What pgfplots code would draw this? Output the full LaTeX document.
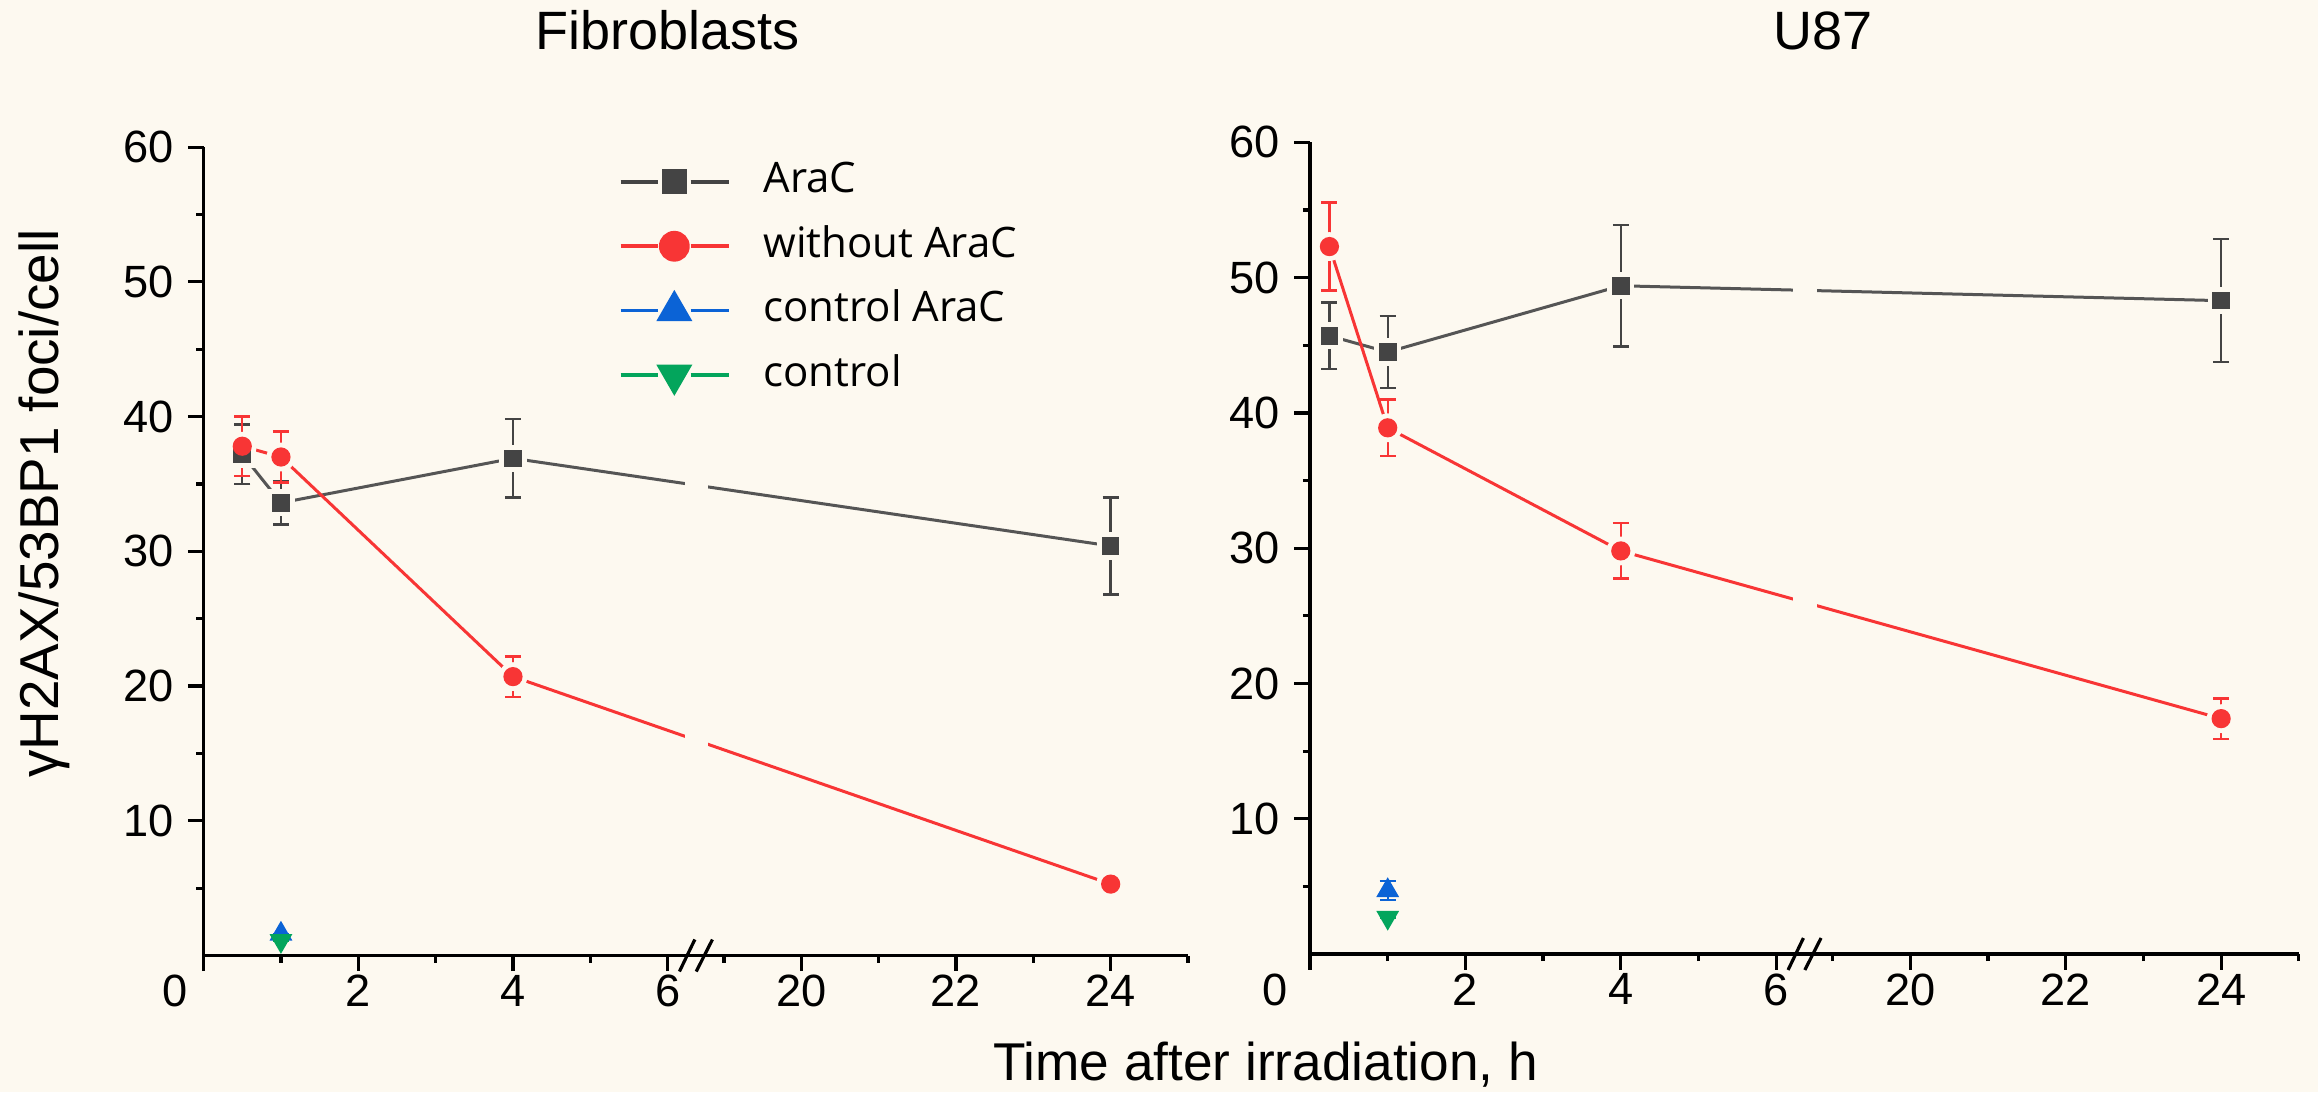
\documentclass[border=0pt]{standalone}
\usepackage{fontspec}
\setmainfont{Liberation Sans}
\newfontfamily\legfont{Open Sans}
\usepackage{pgfplots}
\pgfplotsset{compat=1.18}
\usepackage{pgfplotstable}
\definecolor{bg}{HTML}{FDF9F0}
\definecolor{cgray}{HTML}{444444}
\definecolor{lgray}{HTML}{555555}
\definecolor{cred}{HTML}{F83535}
\definecolor{cblue}{HTML}{0B63D6}
\definecolor{cgreen}{HTML}{03A55C}

% Fibroblasts
\pgfplotstableread{
t v e
0.5 37.2 2.2
1 33.6 1.6
4 36.9 2.9
24 30.4 3.6
}\FibAraC
\pgfplotstableread{
t v e
0.5 37.8 2.2
1 37.0 1.9
4 20.7 1.5
24 5.3 0
}\FibNo
\pgfplotstableread{
t v e
1 1.6 0
}\FibCtrlAraC
\pgfplotstableread{
t v e
1 1.1 0
}\FibCtrl
% U87
\pgfplotstableread{
t v e
0.25 45.7 2.45
1 44.5 2.65
4 49.4 4.5
24 48.3 4.55
}\UAraC
\pgfplotstableread{
t v e
0.25 52.3 3.25
1 38.9 2.1
4 29.8 2.05
24 17.4 1.5
}\UNo
\pgfplotstableread{
t v e
1 4.7 0.7
}\UCtrlAraC
\pgfplotstableread{
t v e
1 2.7 0
}\UCtrl

\pgfplotsset{
  x coord trafo/.code={\pgfmathparse{#1>12 ? #1-12.2727 : #1}},
  x coord inv trafo/.code={\pgfmathparse{#1>6.5 ? #1+12.2727 : #1}},
  legend image code/.code={
    \draw[#1, mark=none] (0pt,0pt) -- (9.25pt,0pt);
    \draw[#1, mark=none] (17.5pt,0pt) -- (27pt,0pt);
    \draw[#1] plot coordinates {(13.4pt,0pt)};
  },
  brk/.style={
    scale only axis, xmin=0, xmax=25, ymin=0, ymax=60,
    axis x line=bottom, axis y line=left,
    x axis line style={-}, y axis line style={-},
    axis line style={line width=0.9pt, black},
    xtick={0,2,4,6,20,22,24}, minor xtick={1,3,5,19,21,23,25},
    ytick={10,20,...,60}, minor ytick={5,15,...,55},
    tick align=outside, major tick length=3.9pt, minor tick length=1.8pt,
    every tick/.style={line width=0.8pt, black},
    ticklabel style={font=\fontsize{11.3}{13}\selectfont, inner sep=0pt},
    xticklabel style={yshift=-0.8pt},
    yticklabel style={xshift=-3.4pt},
    /pgf/number format/assume math mode=true,
    clip=false,
  },
  lineplot/.style={line width=0.75pt, no marks, forget plot},
  halo/.style={only marks, color=bg, forget plot},
  ebars/.style={only marks, forget plot,
    error bars/y dir=both, error bars/y explicit,
    error bars/error bar style={line width=0.6pt},
    error bars/error mark options={rotate=90, mark size=2pt, line width=0.6pt}},
}

\begin{document}
\begin{tikzpicture}
\fill[bg] (-50.9pt,-34.125pt) rectangle (528.6pt,238.875pt);
\path[use as bounding box] (-50.9pt,-34.125pt) rectangle (528.6pt,238.875pt);

% ---------------- Fibroblasts ----------------
\begin{axis}[brk, at={(0pt,0pt)}, anchor=south west,
  width=246.1pt, height=202.1pt,
  xticklabels={\makebox[0pt][r]{0\hspace{4.1pt}},2,4,6,20,22,24},
  legend style={at={(0.4219,0.983)}, anchor=north west, draw=none, fill=none,
    inner sep=0pt, outer sep=0pt, font=\legfont\fontsize{10.5}{12}\selectfont,
    row sep=5.6pt,
    nodes={inner sep=0pt, text height=8pt, text depth=2.5pt},
    /tikz/every odd column/.append style={column sep=8.25pt}},
  legend cell align=left]
\addlegendimage{color=cgray, line width=0.9pt, mark=square*, mark size=2.65pt}
\addlegendentry{AraC}
\addlegendimage{color=cred, line width=0.9pt, mark=*, mark size=3.4pt}
\addlegendentry{without AraC}
\addlegendimage{color=cblue, line width=0.9pt, mark=triangle*, mark size=4.3pt}
\addlegendentry{control AraC}
\addlegendimage{color=cgreen, line width=0.9pt, mark=triangle*, mark size=4.3pt, mark options={rotate=180}}
\addlegendentry{control}

\addplot[lineplot, lgray] table[x=t, y=v] {\FibAraC};
\addplot[lineplot, cred] table[x=t, y=v] {\FibNo};
\fill[bg] (axis cs:6.22,0.6) rectangle (axis cs:6.52,59.6);
\addplot[halo, mark=square*, mark size=3.2pt] table[x=t, y=v] {\FibAraC};
\addplot[halo, mark=*, mark size=3.4pt] table[x=t, y=v] {\FibNo};
\addplot[ebars, color=cgray, mark=square*, mark size=2pt] table[x=t, y=v, y error=e] {\FibAraC};
\addplot[ebars, color=cred, mark=*, mark size=2.2pt] table[x=t, y=v, y error=e] {\FibNo};
\addplot[ebars, color=cblue, mark=triangle*, mark size=2.9pt] table[x=t, y=v, y error=e] {\FibCtrlAraC};
\addplot[ebars, color=cgreen, mark=triangle*, mark size=2.9pt, mark options={rotate=180}] table[x=t, y=v, y error=e] {\FibCtrl};

\draw[black, line width=0.8pt] ([shift={(-4.1pt,-4pt)}]axis cs:6.364,0) -- ++(3.85pt,8pt);
\draw[black, line width=0.8pt] ([shift={(0.1pt,-4pt)}]axis cs:6.364,0) -- ++(4.05pt,8pt);
\end{axis}

% ---------------- U87 ----------------
\begin{axis}[brk, at={(276.6pt,0.375pt)}, anchor=south west,
  width=247.2pt, height=202.9pt,
  xticklabels={\makebox[0pt][r]{0\hspace{5.7pt}},2,4,6,20,22,24}]
\addplot[lineplot, lgray] table[x=t, y=v] {\UAraC};
\addplot[lineplot, cred] table[x=t, y=v] {\UNo};
\fill[bg] (axis cs:6.22,0.6) rectangle (axis cs:6.52,59.6);
\addplot[halo, mark=square*, mark size=3.2pt] table[x=t, y=v] {\UAraC};
\addplot[halo, mark=*, mark size=3.4pt] table[x=t, y=v] {\UNo};
\addplot[ebars, color=cgray, mark=square*, mark size=2pt] table[x=t, y=v, y error=e] {\UAraC};
\addplot[ebars, color=cred, mark=*, mark size=2.2pt] table[x=t, y=v, y error=e] {\UNo};
\addplot[ebars, color=cblue, mark=triangle*, mark size=2.9pt] table[x=t, y=v, y error=e] {\UCtrlAraC};
\addplot[ebars, color=cgreen, mark=triangle*, mark size=2.9pt, mark options={rotate=180}] table[x=t, y=v, y error=e] {\UCtrl};

\draw[black, line width=0.8pt] ([shift={(-4.1pt,-4pt)}]axis cs:6.364,0) -- ++(3.85pt,8pt);
\draw[black, line width=0.8pt] ([shift={(0.1pt,-4pt)}]axis cs:6.364,0) -- ++(4.05pt,8pt);
\end{axis}

% titles and labels
\node[anchor=base, font=\fontsize{13.5}{15}\selectfont] at (115.9pt,226.4pt) {Fibroblasts};
\node[anchor=base, font=\fontsize{13.5}{15}\selectfont] at (404.9pt,226.4pt) {U87};
\node[anchor=base, font=\fontsize{13.3}{15}\selectfont] at (265.5pt,-31.3pt) {Time after irradiation, h};
\node[anchor=base, rotate=90, font=\fontsize{13.7}{15}\selectfont] at (-36.4pt,113pt) {γH2AX/53BP1 foci/cell};
\end{tikzpicture}
\end{document}
